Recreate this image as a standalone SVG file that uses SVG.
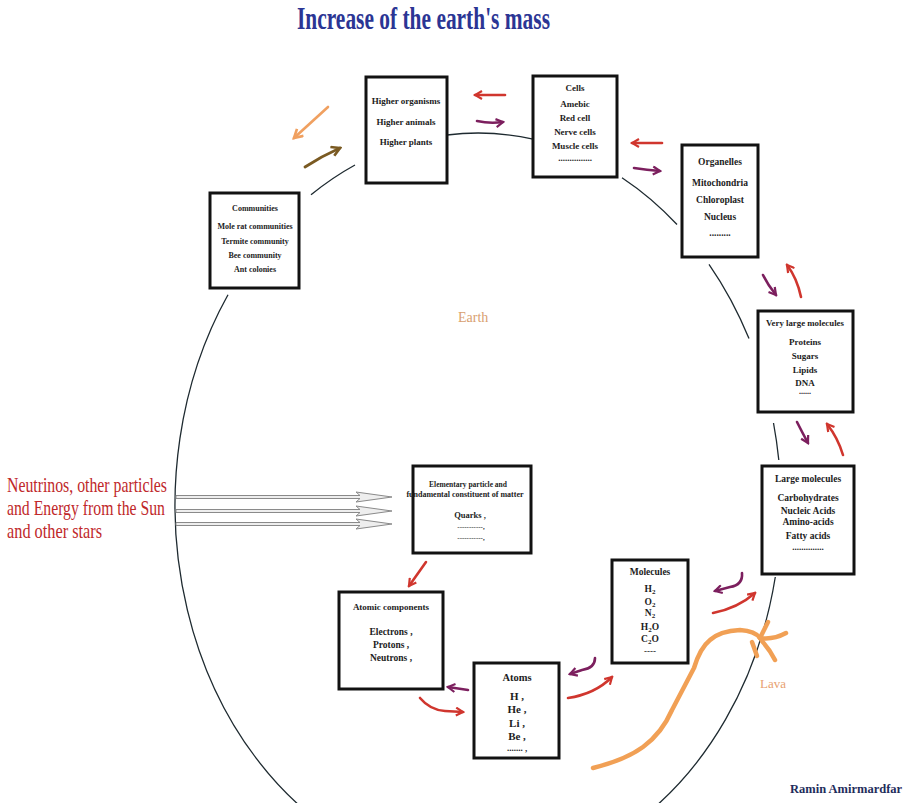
<svg xmlns="http://www.w3.org/2000/svg" width="911" height="803" viewBox="0 0 911 803">
  <style>
    .box { fill: #ffffff; stroke: #121212; stroke-width: 3; }
    .bt { font-family: "Liberation Serif", "Times New Roman", serif; font-weight: bold; fill: #1c1c1c; text-anchor: middle; }
    .orbit { fill: none; stroke: #1e2a30; stroke-width: 1.3; }
    .red { fill: none; stroke: #d0362e; stroke-width: 2.6; stroke-linecap: round; marker-end: url(#ah-red); }
    .purple { fill: none; stroke: #7c1f5e; stroke-width: 2.6; stroke-linecap: round; marker-end: url(#ah-purple); }
    .ray { fill: #eeeeee; stroke: #8a8a8a; stroke-width: 1; }
    .lava { fill: none; stroke: #f1a055; stroke-width: 4.5; stroke-linecap: round; stroke-linejoin: round; }
  </style>
  <defs>
    <marker id="ah-red" viewBox="0 0 10 10" refX="8" refY="5" markerWidth="10" markerHeight="10" markerUnits="userSpaceOnUse" orient="auto">
      <path d="M1,1 L8,5 L1,9" fill="none" stroke="#d0362e" stroke-width="2.2"/>
    </marker>
    <marker id="ah-purple" viewBox="0 0 10 10" refX="8" refY="5" markerWidth="10" markerHeight="10" markerUnits="userSpaceOnUse" orient="auto">
      <path d="M1,1 L8,5 L1,9" fill="none" stroke="#7c1f5e" stroke-width="2.2"/>
    </marker>
    <marker id="ah-orange" viewBox="0 0 10 10" refX="8" refY="5" markerWidth="12" markerHeight="12" markerUnits="userSpaceOnUse" orient="auto">
      <path d="M1,1 L8,5 L1,9" fill="none" stroke="#f0a060" stroke-width="2.2"/>
    </marker>
    <marker id="ah-brown" viewBox="0 0 10 10" refX="8" refY="5" markerWidth="12" markerHeight="12" markerUnits="userSpaceOnUse" orient="auto">
      <path d="M1,1 L8,5 L1,9" fill="none" stroke="#7a5a22" stroke-width="2.2"/>
    </marker>
  </defs>

  <rect width="911" height="803" fill="#ffffff"/>

  <!-- title -->
  <text x="423.5" y="29" font-family="'Liberation Serif', 'Times New Roman', serif" font-weight="bold" font-size="31" fill="#2b3594" text-anchor="middle" textLength="253" lengthAdjust="spacingAndGlyphs">Increase of the earth's mass</text>

  <!-- outline of the Earth, broken around the boxes -->
  <g id="earth-outline">
    <path class="orbit" d="M311,194.8 A303,372 0 0 1 355,165"/>
    <path class="orbit" d="M447,135 A303,372 0 0 1 533,139.2"/>
    <path class="orbit" d="M622,177.7 A303,372 0 0 1 677,224.5"/>
    <path class="orbit" d="M709,264.3 A303,372 0 0 1 749,338.6"/>
    <path class="orbit" d="M773.5,423 A303,372 0 0 1 778.8,460"/>
    <path class="orbit" d="M775.3,577 A303,372 0 1 1 228,294.8"/>
  </g>

  <text x="458" y="322" font-family="'Liberation Serif', 'Times New Roman', serif" font-size="14" fill="#d9a070">Earth</text>

  <!-- lava -->
  <g id="lava">
    <path class="lava" d="M593,768 Q625,760 643,747 Q662,733 672,710 Q685,685 694,668 Q700,648 710,640 Q720,631 740,630 Q755,631 760,638"/>
    <path class="lava" d="M760,638 L768,622"/>
    <path class="lava" d="M760,638 Q773,640 786,633"/>
    <path class="lava" d="M762,641 Q770,650 775,660"/>
    <path class="lava" d="M752,642 L757,656"/>
    <text x="760" y="688" font-family="'Liberation Serif', 'Times New Roman', serif" font-size="13" fill="#e8a070" stroke="none">Lava</text>
  </g>

  <!-- incoming radiation label -->
  <g id="sources" font-family="'Liberation Serif', 'Times New Roman', serif" font-size="21" fill="#c0282a">
    <text x="7" y="492" textLength="160" lengthAdjust="spacingAndGlyphs">Neutrinos, other particles</text>
    <text x="7" y="515" textLength="158" lengthAdjust="spacingAndGlyphs">and Energy from the Sun</text>
    <text x="7" y="538" textLength="95" lengthAdjust="spacingAndGlyphs">and other stars</text>
  </g>

  <g id="connectors">
    <!-- rays entering the Earth -->
    <path class="ray" d="M176,495.5 H360 L356,492 L392,497 L356,502 L360,498.5 H176 Z"/>
    <path class="ray" d="M176,509.5 H360 L356,506 L392,511 L356,516 L360,512.5 H176 Z"/>
    <path class="ray" d="M176,522.5 H360 L356,519 L392,524 L356,529 L360,525.5 H176 Z"/>

    <!-- communities / higher organisms -->
    <path d="M328,107 L294,138" fill="none" stroke="#f0a060" stroke-width="2.6" stroke-linecap="round" marker-end="url(#ah-orange)"/>
    <path d="M305,167 Q322,156 340,148" fill="none" stroke="#7a5a22" stroke-width="2.8" stroke-linecap="round" marker-end="url(#ah-brown)"/>

    <!-- higher organisms / cells -->
    <path class="red" d="M505,95 L475,95"/>
    <path class="purple" d="M477,121 Q490,124 503,122"/>

    <!-- cells / organelles -->
    <path class="red" d="M662,143 L632,143"/>
    <path class="purple" d="M634,168 Q647,170 660,171"/>

    <!-- organelles / very large molecules -->
    <path class="purple" d="M763,275 Q768,285 776,295"/>
    <path class="red" d="M801,297 Q797,278 787,265"/>

    <!-- very large molecules / large molecules -->
    <path class="purple" d="M797,422 Q802,432 808,443"/>
    <path class="red" d="M843,455 Q838,438 827,424"/>

    <!-- large molecules / molecules -->
    <path class="purple" d="M742,573 Q743,585 730,587 L715,591"/>
    <path class="red" d="M713,613 Q738,608 755,593"/>

    <!-- molecules / atoms -->
    <path class="purple" d="M595,658 Q595,668 582,670 L570,674"/>
    <path class="red" d="M568,698 Q595,694 612,677"/>

    <!-- atoms / atomic components -->
    <path class="purple" d="M468,690 L448,687"/>
    <path class="red" d="M420,698 Q430,710 445,711 L463,712"/>

    <!-- elementary particles / atomic components -->
    <path class="red" d="M426,562 L409,586"/>
  </g>

  <g id="higher-organisms">
    <rect class="box" x="366" y="77" width="81" height="106"/>
    <text class="bt" font-size="9" x="406" y="104">Higher  organisms</text>
    <text class="bt" font-size="9" x="406" y="125">Higher animals</text>
    <text class="bt" font-size="9" x="406" y="145">Higher plants</text>
  </g>

  <g id="communities">
    <rect class="box" x="210" y="193" width="89" height="95"/>
    <text class="bt" font-size="8" x="255" y="211">Communities</text>
    <text class="bt" font-size="8" x="255" y="229">Mole rat communities</text>
    <text class="bt" font-size="8" x="255" y="244">Termite community</text>
    <text class="bt" font-size="8" x="255" y="258">Bee community</text>
    <text class="bt" font-size="8" x="255" y="272">Ant colonies</text>
  </g>

  <g id="cells">
    <rect class="box" x="533" y="76" width="84" height="101"/>
    <text class="bt" font-size="9" x="575" y="91">Cells</text>
    <text class="bt" font-size="9" x="575" y="107">Amebic</text>
    <text class="bt" font-size="9" x="575" y="121">Red cell</text>
    <text class="bt" font-size="9" x="575" y="135">Nerve cells</text>
    <text class="bt" font-size="9" x="575" y="149">Muscle cells</text>
    <text class="bt" font-size="9" x="575" y="161">...............</text>
  </g>

  <g id="organelles">
    <rect class="box" x="682" y="145" width="76" height="112"/>
    <text class="bt" font-size="9.5" x="720" y="165">Organelles</text>
    <text class="bt" font-size="9.5" x="720" y="186">Mitochondria</text>
    <text class="bt" font-size="9.5" x="720" y="203">Chloroplast</text>
    <text class="bt" font-size="9.5" x="720" y="220">Nucleus</text>
    <text class="bt" font-size="9.5" x="720" y="236">.........</text>
  </g>

  <g id="very-large-molecules">
    <rect class="box" x="758" y="311" width="95" height="101"/>
    <text class="bt" font-size="8.8" x="805" y="326">Very large molecules</text>
    <text class="bt" font-size="9" x="805" y="345">Proteins</text>
    <text class="bt" font-size="9" x="805" y="359">Sugars</text>
    <text class="bt" font-size="9" x="805" y="373">Lipids</text>
    <text class="bt" font-size="9" x="805" y="386">DNA</text>
    <text class="bt" font-size="8" x="805" y="394">......</text>
  </g>

  <g id="large-molecules">
    <rect class="box" x="762" y="466" width="92" height="108"/>
    <text class="bt" font-size="9.5" x="808" y="482">Large molecules</text>
    <text class="bt" font-size="9.5" x="808" y="501">Carbohydrates</text>
    <text class="bt" font-size="9.5" x="808" y="514">Nucleic Acids</text>
    <text class="bt" font-size="9.5" x="808" y="525">Amino-acids</text>
    <text class="bt" font-size="9.5" x="808" y="539">Fatty acids</text>
    <text class="bt" font-size="9" x="808" y="550">..............</text>
  </g>

  <g id="molecules">
    <rect class="box" x="612" y="560" width="76" height="103"/>
    <text class="bt" font-size="9.5" x="650" y="575">Molecules</text>
    <text class="bt" font-size="9.5" x="650" y="592">H<tspan font-size="7" dy="2">2</tspan></text>
    <text class="bt" font-size="9.5" x="650" y="605">O<tspan font-size="7" dy="2">2</tspan></text>
    <text class="bt" font-size="9.5" x="650" y="616">N<tspan font-size="7" dy="2">2</tspan></text>
    <text class="bt" font-size="9.5" x="650" y="630">H<tspan font-size="7" dy="2">2</tspan><tspan dy="-2">O</tspan></text>
    <text class="bt" font-size="9.5" x="650" y="642">C<tspan font-size="7" dy="2">2</tspan><tspan dy="-2">O</tspan></text>
    <text class="bt" font-size="9" x="650" y="654">----</text>
  </g>

  <g id="atoms">
    <rect class="box" x="474" y="663" width="85" height="95"/>
    <text class="bt" font-size="10.5" x="517" y="681">Atoms</text>
    <text class="bt" font-size="11" x="517" y="700">H  ,</text>
    <text class="bt" font-size="11" x="517" y="713">He ,</text>
    <text class="bt" font-size="11" x="517" y="727">Li ,</text>
    <text class="bt" font-size="11" x="517" y="740">Be ,</text>
    <text class="bt" font-size="9" x="517" y="751">....... ,</text>
  </g>

  <g id="atomic-components">
    <rect class="box" x="339" y="592" width="104" height="97"/>
    <text class="bt" font-size="9" x="391" y="610">Atomic components</text>
    <text class="bt" font-size="9.5" x="391" y="635">Electrons ,</text>
    <text class="bt" font-size="9.5" x="391" y="648">Protons  ,</text>
    <text class="bt" font-size="9.5" x="391" y="661">Neutrons ,</text>
  </g>

  <g id="elementary-particles">
    <rect class="box" x="413" y="466" width="118" height="87"/>
    <text class="bt" font-size="7.5" x="468" y="487">Elementary particle and</text>
    <text class="bt" font-size="8" x="465" y="497">fundamental constituent of matter</text>
    <text class="bt" font-size="8.5" x="470" y="518">Quarks ,</text>
    <text class="bt" font-size="7" x="471" y="529">-----------,</text>
    <text class="bt" font-size="7" x="471" y="540">-----------,</text>
  </g>

  <text x="790" y="793" font-family="'Liberation Serif', 'Times New Roman', serif" font-weight="bold" font-size="12.5" fill="#1f2d5c">Ramin Amirmardfar</text>
</svg>
